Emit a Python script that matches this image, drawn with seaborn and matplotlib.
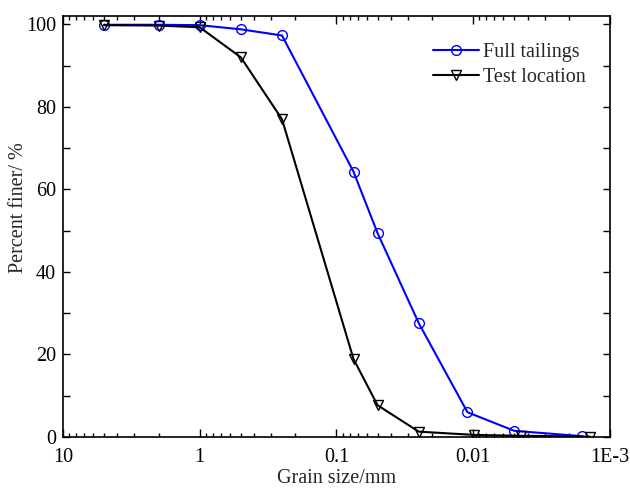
import numpy as np
import pandas as pd
import matplotlib
matplotlib.use('Agg')
import matplotlib.pyplot as plt
import seaborn as sns
from matplotlib.ticker import MultipleLocator, LogLocator, NullFormatter

# grain size (mm) and percent finer
full_size = [5, 2, 1, 0.5, 0.25, 0.075, 0.05, 0.025, 0.011, 0.005, 0.0016]
full_finer = [99.9, 99.9, 99.8, 98.8, 97.3, 64.3, 49.4, 27.6, 6.0, 1.5, 0.2]

test_size = [5, 2, 1, 0.5, 0.25, 0.075, 0.05, 0.025, 0.0098, 0.0045, 0.0014]
test_finer = [99.8, 99.7, 99.3, 92.0, 77.0, 18.9, 7.7, 1.3, 0.5, 0.3, 0.1]

xtick_vals = [10, 1, 0.1, 0.01, 0.001]
xtick_labels = ['10', '1', '0.1', '0.01', '1E-3']

full = pd.DataFrame({'size': full_size, 'finer': full_finer})
test = pd.DataFrame({'size': test_size, 'finer': test_finer})

sns.set_style('ticks')
plt.rcParams['font.family'] = ['Liberation Serif', 'DejaVu Serif']

fig = plt.figure(figsize=(6.3, 4.88), dpi=100)
ax = fig.add_axes([0.1, 0.1045, 0.868, 0.8625])

sns.lineplot(data=full, x='size', y='finer', color='blue', marker='o', ms=7,
             mfc='none', mec='blue', mew=1, lw=1.5, label='Full tailings', ax=ax)
sns.lineplot(data=test, x='size', y='finer', color='black', marker='v', ms=7.5,
             mfc='none', mec='black', mew=1, lw=1.5, label='Test location', ax=ax)

ax.set_xscale('log')
ax.set_xlim(10, 0.001)
ax.set_ylim(0, 102)
ax.set_xticks(xtick_vals)
ax.set_xticklabels(xtick_labels)
ax.xaxis.set_minor_locator(LogLocator(base=10, subs=np.arange(2, 10)))
ax.xaxis.set_minor_formatter(NullFormatter())
ax.yaxis.set_major_locator(MultipleLocator(20))
ax.yaxis.set_minor_locator(MultipleLocator(10))

ax.tick_params(which='both', direction='in', top=True, right=True,
               labelsize=14.5, width=1, colors='black')
ax.tick_params(axis='x', which='major', length=6, pad=8)
ax.tick_params(axis='x', which='minor', length=3)
ax.tick_params(axis='y', which='both', length=5, pad=5)
for s in ax.spines.values():
    s.set_linewidth(1.2)
    s.set_color('black')

ax.set_xlabel('Grain size/mm', fontsize=14.5)
ax.set_ylabel('Percent finer/ %', fontsize=14.5)
ax.xaxis.set_label_coords(0.5, -0.076)
ax.yaxis.set_label_coords(-0.064, 0.546)

ax.legend(loc='upper left', bbox_to_anchor=(0.662, 0.955), frameon=False,
          fontsize=14.5, handlelength=2.3, handletextpad=0.2, labelspacing=0.3,
          borderaxespad=0)

fig.savefig('out.png', dpi=100)
